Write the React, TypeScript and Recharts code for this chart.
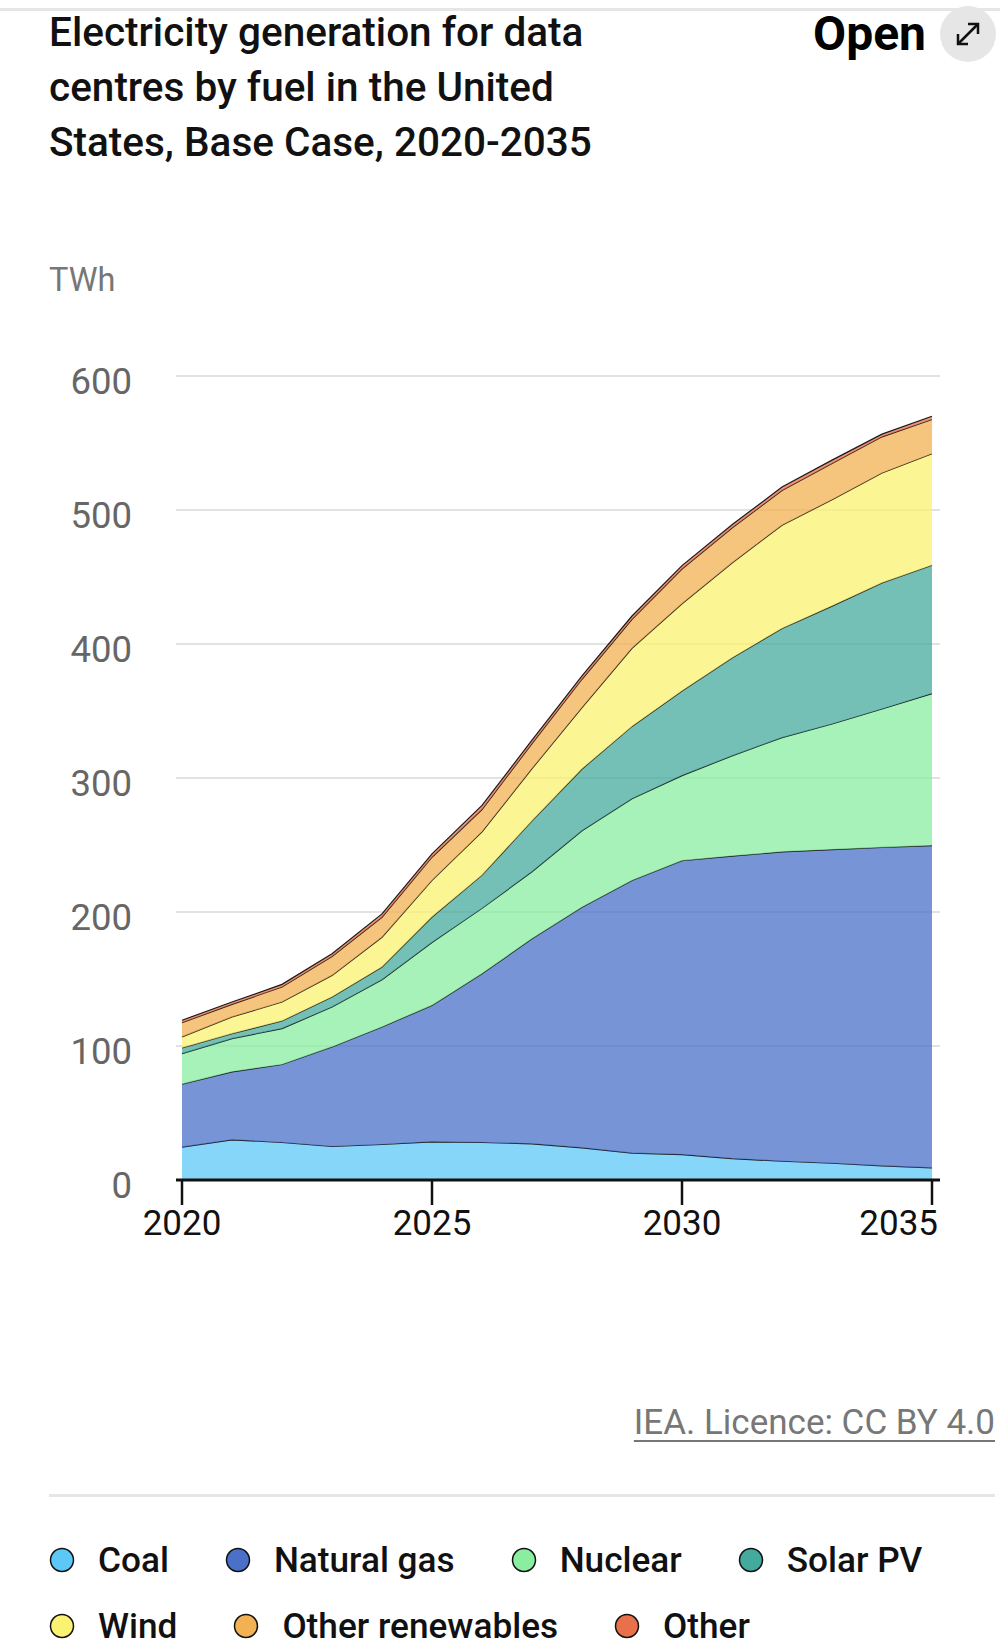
import React from "react";
import { AreaChart, Area, XAxis, YAxis, CartesianGrid } from "recharts";

const years = [2020, 2021, 2022, 2023, 2024, 2025, 2026, 2027, 2028, 2029, 2030, 2031, 2032, 2033, 2034, 2035];
const coal = [24.5, 30, 28, 25, 26.5, 28.5, 28, 27, 24, 20, 19, 16, 14, 12.5, 10.5, 9];
const naturalGas = [47, 50.7, 58.2, 74.3, 87.7, 101.8, 125.9, 153, 179.6, 203.5, 219.3, 225.7, 230.9, 234.1, 237.7, 240.6];
const nuclear = [22.8, 24.8, 26.8, 29.8, 35.3, 47, 48.8, 50, 57.1, 61, 63.5, 74.8, 85.2, 93.7, 103.3, 113.4];
const solarPV = [4.3, 3.7, 5.7, 7.4, 9.4, 19, 24.8, 38, 46, 54, 63.2, 73, 81.5, 88, 94.1, 95.8];
const wind = [8.2, 12.5, 14.1, 16.2, 22.3, 27.3, 32.3, 39, 45.9, 58.3, 65, 71, 77, 79.4, 82, 83.2];
const otherRenewables = [10.6, 9.4, 11.2, 14.1, 14.9, 17.3, 16.7, 18.7, 21.1, 21.6, 26, 26, 26, 27, 27, 25.5];
const other = [1.8, 1.7, 2, 2, 2.5, 2.5, 3, 2.5, 2.5, 2.5, 2.5, 2.5, 2.5, 2.5, 2, 2.5];

const yTicks = [0, 100, 200, 300, 400, 500, 600];
const xTicks = [2020, 2025, 2030, 2035];

const series = [
  { key: "coal", name: "Coal", color: "#5cc8f5", values: coal },
  { key: "gas", name: "Natural gas", color: "#4a70c8", values: naturalGas },
  { key: "nuclear", name: "Nuclear", color: "#8aeea0", values: nuclear },
  { key: "solar", name: "Solar PV", color: "#45aa9e", values: solarPV },
  { key: "wind", name: "Wind", color: "#faf270", values: wind },
  { key: "otherRen", name: "Other renewables", color: "#f2b152", values: otherRenewables },
  { key: "other", name: "Other", color: "#e8704a", values: other },
];

const data = years.map((year, i) => {
  const row: Record<string, number> = { year };
  series.forEach((s) => {
    row[s.key] = s.values[i];
  });
  return row;
});

const FONT = "Roboto, 'Liberation Sans', Arial, sans-serif";

const XTick = (props: any) => {
  const { x, y, payload } = props;
  const last = payload.value === xTicks[xTicks.length - 1];
  return (
    <text
      x={last ? x + 6 : x}
      y={y + 3}
      dy="0.71em"
      textAnchor={last ? "end" : "middle"}
      fill="#111"
      fontSize={35}
      fontFamily={FONT}
    >
      {payload.value}
    </text>
  );
};

const YTick = (props: any) => {
  const { x, y, payload } = props;
  return (
    <text x={x} y={y + 5} dy="0.355em" textAnchor="end" fill="#666" fontSize={36.5} fontFamily={FONT}>
      {payload.value}
    </text>
  );
};

export default function App() {
  return (
    <div
      style={{
        position: "absolute",
        left: 0,
        top: 0,
        width: 1000,
        height: 1650,
        background: "#fff",
        fontFamily: FONT,
        overflow: "hidden",
      }}
    >
      <div style={{ position: "absolute", left: 0, top: 8, width: 1000, height: 3, background: "#e6e6e6" }} />
      <div
        style={{
          position: "absolute",
          left: 49,
          top: 5,
          fontSize: 40.5,
          fontWeight: 500,
          lineHeight: "55px",
          color: "#111",
          whiteSpace: "nowrap",
        }}
      >
        Electricity generation for data
        <br />
        centres by fuel in the United
        <br />
        States, Base Case, 2020-2035
      </div>
      <div
        style={{
          position: "absolute",
          right: 74,
          top: 7,
          fontSize: 48,
          fontWeight: 700,
          lineHeight: "54px",
          color: "#000",
        }}
      >
        Open
      </div>
      <svg style={{ position: "absolute", left: 938, top: 5 }} width={60} height={60}>
        <circle cx={30} cy={29} r={28} fill="#e6e6e6" />
        <line x1={20} y1={39} x2={40} y2={19} stroke="#111" strokeWidth={2.5} />
        <polyline points="20,29 20,39 30,39" fill="none" stroke="#111" strokeWidth={2.5} />
        <polyline points="30,19 40,19 40,29" fill="none" stroke="#111" strokeWidth={2.5} />
      </svg>
      <div style={{ position: "absolute", left: 49, top: 261, fontSize: 32.5, color: "#777", lineHeight: "38px" }}>
        TWh
      </div>

      <div style={{ position: "absolute", left: 0, top: 0 }}>
        <AreaChart
          width={1000}
          height={1262}
          data={data}
          margin={{ top: 376, right: 60, left: 0, bottom: 0 }}
        >
          <CartesianGrid vertical={false} stroke="#e2e2e2" strokeWidth={2} />
          <XAxis
            dataKey="year"
            type="number"
            domain={[2020, 2035]}
            ticks={xTicks}
            padding={{ left: 6, right: 8 }}
            height={82}
            axisLine={{ stroke: "#111", strokeWidth: 3 }}
            tickLine={{ stroke: "#111", strokeWidth: 2.5 }}
            tickSize={25}
            tick={<XTick />}
            interval={0}
          />
          <YAxis
            type="number"
            domain={[0, 600]}
            ticks={yTicks}
            width={176}
            axisLine={false}
            tickLine={false}
            tickSize={0}
            tickMargin={44}
            tick={<YTick />}
            interval={0}
          />
          {series.map((s) => (
            <Area
              key={s.key}
              type="linear"
              dataKey={s.key}
              name={s.name}
              stackId="1"
              stroke="#1a1a1a"
              strokeWidth={1.2}
              fill={s.color}
              fillOpacity={0.75}
              isAnimationActive={false}
              dot={false}
              activeDot={false}
            />
          ))}
        </AreaChart>
      </div>

      <div
        style={{
          position: "absolute",
          right: 5,
          top: 1402,
          fontSize: 35,
          color: "#777",
          lineHeight: "42px",
          textDecoration: "underline",
          textUnderlineOffset: 6,
          textDecorationThickness: 2,
        }}
      >
        IEA. Licence: CC BY 4.0
      </div>
      <div style={{ position: "absolute", left: 49, top: 1494, width: 946, height: 3, background: "#e6e6e6" }} />

      <div
        style={{
          position: "absolute",
          left: 49,
          top: 1538,
          width: 945,
          display: "flex",
          flexWrap: "wrap",
          columnGap: 56,
          rowGap: 22,
        }}
      >
        {series.map((s) => (
          <div key={s.key} style={{ display: "flex", alignItems: "center", height: 44 }}>
            <svg width={26} height={26} style={{ marginRight: 23 }}>
              <circle cx={13} cy={13} r={11.5} fill={s.color} stroke="#111" strokeWidth={1.5} />
            </svg>
            <span style={{ fontSize: 35.2, fontWeight: 500, color: "#111", lineHeight: "44px" }}>{s.name}</span>
          </div>
        ))}
      </div>
    </div>
  );
}
